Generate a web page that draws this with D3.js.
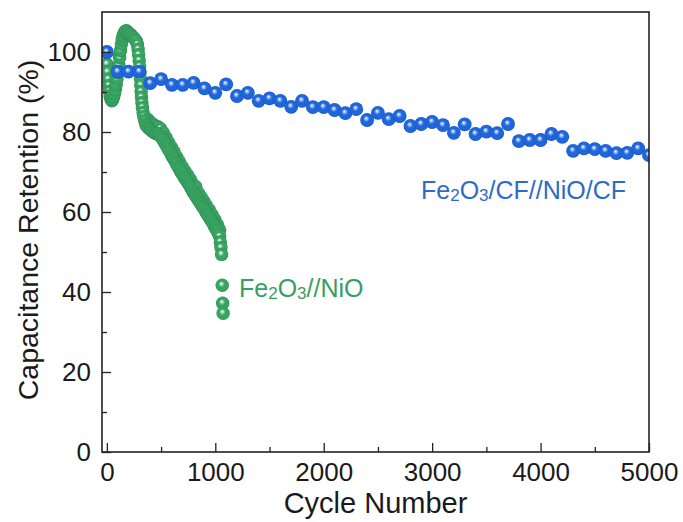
<!DOCTYPE html>
<html>
<head>
<meta charset="utf-8">
<script src="https://cdn.jsdelivr.net/npm/d3@7/dist/d3.min.js"></script>
<style>
  body { margin: 0; background: #fff; }
  svg text { font-family: "Liberation Sans", Arial, sans-serif; fill: #1a1a1a; }
</style>
</head>
<body>
<svg id="chart" width="683" height="522"></svg>
<script>
// blue series: Fe2O3/CF//NiO/CF, one point every 100 cycles
const blueCycles = [0, 100, 200, 300, 400, 500, 600, 700, 800, 900,
  1000, 1100, 1200, 1300, 1400, 1500, 1600, 1700, 1800, 1900,
  2000, 2100, 2200, 2300, 2400, 2500, 2600, 2700, 2800, 2900,
  3000, 3100, 3200, 3300, 3400, 3500, 3600, 3700, 3800, 3900,
  4000, 4100, 4200, 4300, 4400, 4500, 4600, 4700, 4800, 4900, 5000];
const blueRetention = [100.0, 95.1, 95.1, 95.1, 92.2, 93.2, 91.8, 91.8, 92.3, 90.9,
  89.8, 91.9, 89.0, 89.8, 87.8, 88.4, 87.8, 86.3, 87.8, 86.2,
  86.2, 85.5, 84.7, 85.7, 83.0, 84.8, 83.2, 84.0, 81.5, 82.0,
  82.5, 81.7, 79.8, 81.9, 79.5, 80.1, 79.7, 82.0, 77.7, 78.0,
  78.0, 79.5, 78.8, 75.3, 75.9, 75.7, 75.3, 74.7, 74.8, 75.9, 74.2];

// green series: Fe2O3//NiO (main track)
const greenCycles = [0, 6, 12, 18, 24, 30, 38, 46, 54, 62, 70, 78, 86, 94, 102, 110, 118, 126, 134, 142,
  150, 160, 170, 180, 190, 200, 212, 224, 236, 248, 260, 272, 282, 288, 293, 298, 302, 306, 310, 313,
  316, 319, 323, 328, 334, 341, 349, 358, 368, 380, 392, 404, 416, 428, 440, 452, 464, 476, 488, 500,
  512, 524, 536, 548, 560, 572, 584, 596, 608, 620, 632, 644, 656, 668, 680, 692, 704, 716, 728, 740,
  752, 764, 776, 788, 800, 812, 824, 836, 848, 860, 872, 884, 896, 908, 920, 932, 944, 956, 968, 980,
  992, 1004, 1016, 1028, 1040, 1046, 1052, 1058, 1064, 1068, 1072];
const greenRetention = [97.0, 95.0, 93.2, 91.6, 90.2, 89.0, 88.2, 87.8, 88.1, 88.8, 89.6, 90.6, 91.9, 93.3, 94.9, 96.7, 98.6, 100.4, 102.0, 103.2,
  104.1, 104.8, 105.2, 105.3, 105.0, 104.7, 104.5, 104.2, 103.8, 103.5, 103.1, 102.7, 101.9, 100.7, 99.3, 97.9, 96.4, 94.9, 93.3, 91.7,
  90.1, 88.7, 87.3, 86.1, 84.9, 83.8, 82.8, 82.0, 81.5, 81.1, 80.8, 80.6, 80.3, 80.0, 79.8, 79.6, 79.6, 79.4, 79.2, 78.8,
  78.3, 77.8, 77.2, 76.7, 76.1, 75.5, 75.0, 74.3, 73.7, 73.2, 72.6, 72.0, 71.3, 70.8, 70.2, 69.7, 69.1, 68.6, 68.1, 67.6,
  67.1, 66.6, 66.0, 65.4, 64.8, 64.3, 63.8, 63.3, 62.8, 62.3, 61.8, 61.3, 60.8, 60.3, 59.7, 59.2, 58.7, 58.2, 57.6, 57.1,
  56.5, 55.9, 55.3, 54.6, 53.9, 52.5, 51.1, 49.4, 41.7, 37.2, 34.7];

// green series: scattered second row of points that makes the band thicker
const greenCycles2 = [20, 45, 70, 95, 115, 375, 395, 420, 445, 470, 495, 520, 545, 570, 595, 620, 645, 670, 695,
  720, 745, 770, 795, 820, 845, 870, 895, 920, 945, 970, 995, 1020, 1040];
const greenRetention2 = [94.2, 90.6, 91.4, 95.1, 99.0, 83.2, 82.6, 82.0, 81.5, 81.3, 80.8, 79.8, 78.6, 77.4, 76.2, 75.0, 73.7, 72.5, 71.3,
  70.2, 69.2, 68.1, 66.9, 66.3, 64.7, 63.7, 62.6, 61.5, 60.5, 59.3, 58.1, 56.8, 55.5];

const xMajor = [0, 1000, 2000, 3000, 4000, 5000];
const xMinor = [500, 1500, 2500, 3500, 4500];
const yMajor = [0, 20, 40, 60, 80, 100];
const yMinor = [10, 30, 50, 70, 90];

const xTitle = "Cycle Number";
const yTitle = "Capacitance Retention (%)";
// series labels, split so the digits can be set as subscripts
const blueLabel = [["Fe", 0], ["2", 1], ["O", 0], ["3", 1], ["/CF//NiO/CF", 0]];
const greenLabel = [["Fe", 0], ["2", 1], ["O", 0], ["3", 1], ["//NiO", 0]];

const svg = d3.select("#chart");
const plotLeft = 102, plotRight = 649, plotTop = 12, plotBottom = 452;

const x = d3.scaleLinear().domain([-45, 5000]).range([plotLeft, plotRight]);
const y = d3.scaleLinear().domain([0, 110]).range([plotBottom, plotTop]);

// shiny ball gradients
const defs = svg.append("defs");
function ball(id, light, base, dark) {
  const g = defs.append("radialGradient").attr("id", id)
    .attr("cx", "50%").attr("cy", "50%").attr("r", "50%")
    .attr("fx", "42%").attr("fy", "36%");
  g.append("stop").attr("offset", "0%").attr("stop-color", "#ffffff");
  g.append("stop").attr("offset", "16%").attr("stop-color", light);
  g.append("stop").attr("offset", "45%").attr("stop-color", base);
  g.append("stop").attr("offset", "85%").attr("stop-color", base);
  g.append("stop").attr("offset", "100%").attr("stop-color", dark);
}
ball("blueBall", "#a9c8f5", "#1f66dc", "#1451b5");
ball("greenBall", "#b9e4c8", "#38a462", "#2a8a4f");

defs.append("clipPath").attr("id", "plotClip")
  .append("rect")
  .attr("x", plotLeft).attr("y", plotTop)
  .attr("width", plotRight - plotLeft).attr("height", plotBottom - plotTop);

const plot = svg.append("g").attr("clip-path", "url(#plotClip)");

const greenData = greenCycles2.map((c, i) => ({cycle: c, value: greenRetention2[i]}))
  .concat(greenCycles.map((c, i) => ({cycle: c, value: greenRetention[i]})));
const blueData = blueCycles.map((c, i) => ({cycle: c, value: blueRetention[i]}));

// green drawn first, blue sits on top
plot.selectAll(".green")
  .data(greenData)
  .join("circle")
  .attr("class", "green")
  .attr("cx", d => x(d.cycle))
  .attr("cy", d => y(d.value))
  .attr("r", 6.7)
  .attr("fill", "url(#greenBall)");

plot.selectAll(".blue")
  .data(blueData)
  .join("circle")
  .attr("class", "blue")
  .attr("cx", d => x(d.cycle))
  .attr("cy", d => y(d.value))
  .attr("r", 6.9)
  .attr("fill", "url(#blueBall)");

// axes, ticks pointing inward
function styleAxis(g) {
  g.select(".domain").remove();
  g.selectAll("line").attr("stroke", "#222").attr("stroke-width", 1.3);
  g.selectAll("text").attr("font-size", 26).attr("fill", "#1a1a1a");
}

svg.append("g")
  .attr("transform", `translate(0,${plotBottom})`)
  .call(d3.axisBottom(x).tickValues(xMajor).tickSize(-9).tickPadding(10.5).tickFormat(d3.format("d")))
  .call(styleAxis);
svg.append("g")
  .attr("transform", `translate(0,${plotBottom})`)
  .call(d3.axisBottom(x).tickValues(xMinor).tickSize(-5).tickFormat(""))
  .call(styleAxis);
svg.append("g")
  .attr("transform", `translate(${plotLeft},0)`)
  .call(d3.axisLeft(y).tickValues(yMajor).tickSize(-9).tickPadding(11).tickFormat(d3.format("d")))
  .call(styleAxis);
svg.append("g")
  .attr("transform", `translate(${plotLeft},0)`)
  .call(d3.axisLeft(y).tickValues(yMinor).tickSize(-5).tickFormat(""))
  .call(styleAxis);

// frame
svg.append("rect")
  .attr("x", plotLeft).attr("y", plotTop)
  .attr("width", plotRight - plotLeft).attr("height", plotBottom - plotTop)
  .attr("fill", "none")
  .attr("stroke", "#222")
  .attr("stroke-width", 1.6);

// titles
svg.append("text")
  .attr("x", (plotLeft + plotRight) / 2)
  .attr("y", 513)
  .attr("text-anchor", "middle")
  .attr("font-size", 29)
  .text(xTitle);

svg.append("text")
  .attr("transform", "translate(37.5,230) rotate(-90)")
  .attr("text-anchor", "middle")
  .attr("font-size", 28.5)
  .text(yTitle);

// series labels
function seriesLabel(parts, px, py, color, size) {
  const t = svg.append("text")
    .attr("x", px).attr("y", py)
    .attr("font-size", size)
    .style("fill", color);
  t.selectAll("tspan")
    .data(parts)
    .join("tspan")
    .attr("font-size", d => d[1] ? size * 0.68 : size)
    .attr("dy", (d, i) => {
      if (d[1]) return 1.5;
      return i > 0 && parts[i - 1][1] ? -1.5 : 0;
    })
    .text(d => d[0]);
}
seriesLabel(blueLabel, 421, 199, "#2e6bc8", 25);
seriesLabel(greenLabel, 239, 297, "#35a062", 25);
</script>
</body>
</html>
